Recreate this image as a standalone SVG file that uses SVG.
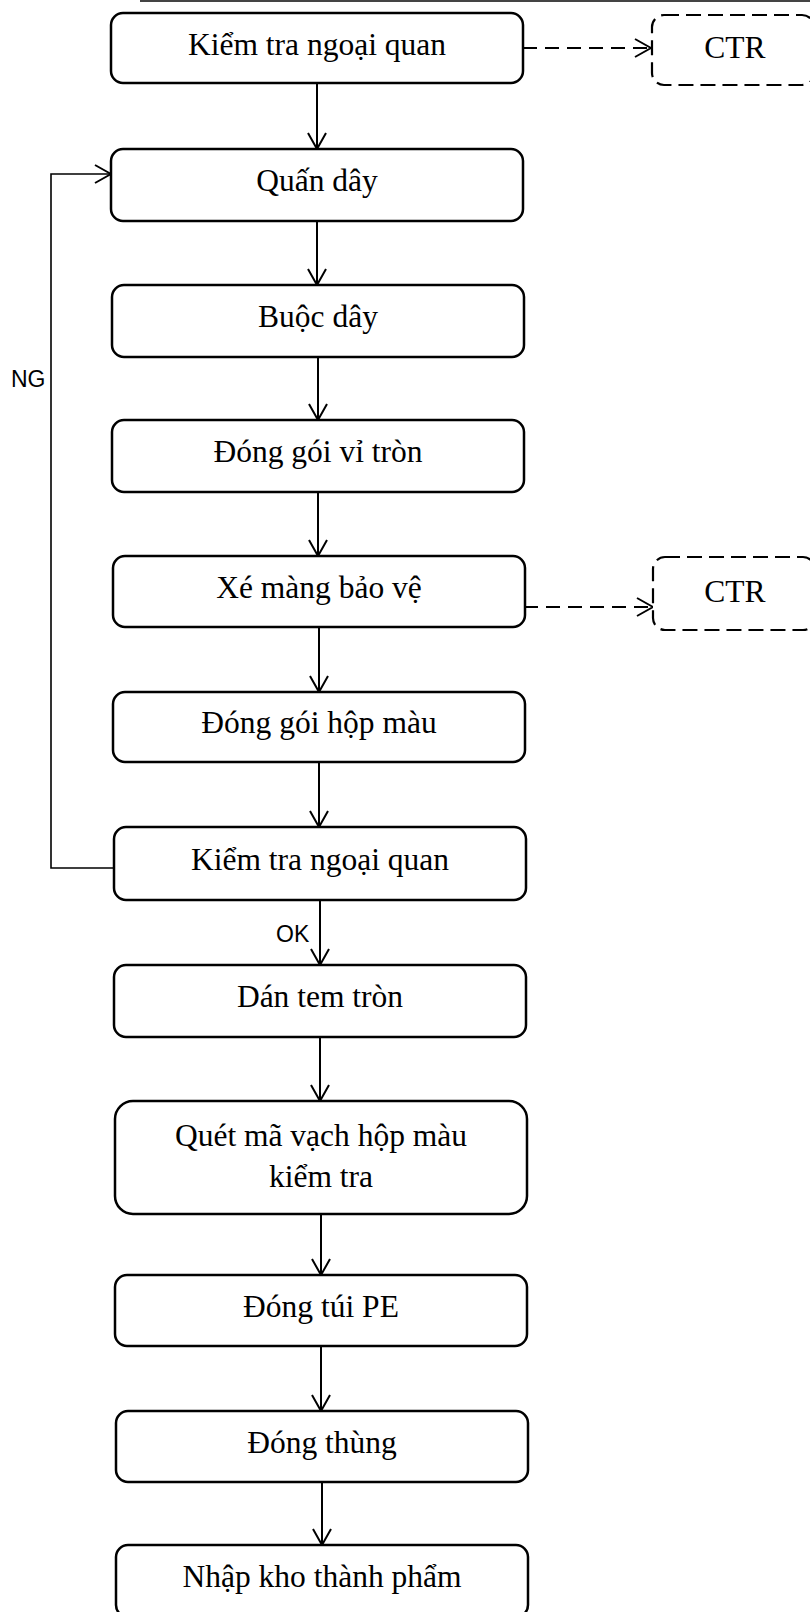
<svg xmlns="http://www.w3.org/2000/svg" width="810" height="1612" viewBox="0 0 810 1612">
  <style>
    .box { fill: #ffffff; stroke: #000000; stroke-width: 2.5; }
    .ctr { fill: #ffffff; stroke: #000000; stroke-width: 2.2; stroke-dasharray: 15 7; }
    .lbl { font-family: "Liberation Serif", "Times New Roman", serif; font-size: 31.5px; fill: #000000; text-anchor: middle; }
    .tag { font-family: "Liberation Sans", Arial, sans-serif; font-size: 23px; fill: #000000; }
    .flow { fill: none; stroke: #000000; stroke-width: 2; marker-end: url(#open); }
    .dash { fill: none; stroke: #000000; stroke-width: 2; stroke-dasharray: 14 8; marker-end: url(#open); }
    .loop { fill: none; stroke: #000000; stroke-width: 1.6; marker-end: url(#open); }
  </style>
  <defs>
    <marker id="open" viewBox="0 0 18 20" refX="17" refY="10" markerWidth="18" markerHeight="20" markerUnits="userSpaceOnUse" orient="auto">
      <path d="M1,1 L17,10 L1,19" fill="none" stroke="#000000" stroke-width="2"/>
    </marker>
  </defs>

  <rect width="810" height="1612" fill="#ffffff"/>
  <!-- page edge rule at the top -->
  <line x1="140" y1="1" x2="810" y2="1" stroke="#444444" stroke-width="2"/>

  <g id="connectors">
    <path class="flow" d="M317,83 V149"/>
    <path class="flow" d="M317,221 V285"/>
    <path class="flow" d="M318,357 V420"/>
    <path class="flow" d="M318,492 V556"/>
    <path class="flow" d="M319,627 V692"/>
    <path class="flow" d="M319,762 V827"/>
    <path class="flow" d="M320,900 V965"/>
    <path class="flow" d="M320,1037 V1101"/>
    <path class="flow" d="M321,1214 V1275"/>
    <path class="flow" d="M321,1346 V1411"/>
    <path class="flow" d="M322,1482 V1545"/>
    <path class="dash" d="M523,48 H651"/>
    <path class="dash" d="M524,607 H653"/>
    <path class="loop" d="M113,868 H51 V174 H111"/>
    <text class="tag" x="11" y="387">NG</text>
    <text class="tag" x="276" y="942">OK</text>
  </g>

  <g id="n1"><rect class="box" x="111" y="13" width="412" height="70" rx="12"/><text class="lbl" x="317" y="55">Kiểm tra ngoại quan</text></g>
  <g id="ctr1"><rect class="ctr" x="652" y="15" width="162" height="70" rx="12"/><text class="lbl" x="735" y="58">CTR</text></g>
  <g id="n2"><rect class="box" x="111" y="149" width="412" height="72" rx="12"/><text class="lbl" x="317" y="191">Quấn dây</text></g>
  <g id="n3"><rect class="box" x="112" y="285" width="412" height="72" rx="12"/><text class="lbl" x="318" y="327">Buộc dây</text></g>
  <g id="n4"><rect class="box" x="112" y="420" width="412" height="72" rx="12"/><text class="lbl" x="318" y="462">Đóng gói vỉ tròn</text></g>
  <g id="n5"><rect class="box" x="113" y="556" width="412" height="71" rx="12"/><text class="lbl" x="319" y="598">Xé màng bảo vệ</text></g>
  <g id="ctr2"><rect class="ctr" x="653" y="557" width="162" height="73" rx="12"/><text class="lbl" x="735" y="602">CTR</text></g>
  <g id="n6"><rect class="box" x="113" y="692" width="412" height="70" rx="12"/><text class="lbl" x="319" y="733">Đóng gói hộp màu</text></g>
  <g id="n7"><rect class="box" x="114" y="827" width="412" height="73" rx="12"/><text class="lbl" x="320" y="870">Kiểm tra ngoại quan</text></g>
  <g id="n8"><rect class="box" x="114" y="965" width="412" height="72" rx="12"/><text class="lbl" x="320" y="1007">Dán tem tròn</text></g>
  <g id="n9"><rect class="box" x="115" y="1101" width="412" height="113" rx="18"/><text class="lbl" x="321" y="1146">Quét mã vạch hộp màu</text><text class="lbl" x="321" y="1187">kiểm tra</text></g>
  <g id="n10"><rect class="box" x="115" y="1275" width="412" height="71" rx="12"/><text class="lbl" x="321" y="1317">Đóng túi PE</text></g>
  <g id="n11"><rect class="box" x="116" y="1411" width="412" height="71" rx="12"/><text class="lbl" x="322" y="1453">Đóng thùng</text></g>
  <g id="n12"><rect class="box" x="116" y="1545" width="412" height="72" rx="12"/><text class="lbl" x="322" y="1587">Nhập kho thành phẩm</text></g>
</svg>
